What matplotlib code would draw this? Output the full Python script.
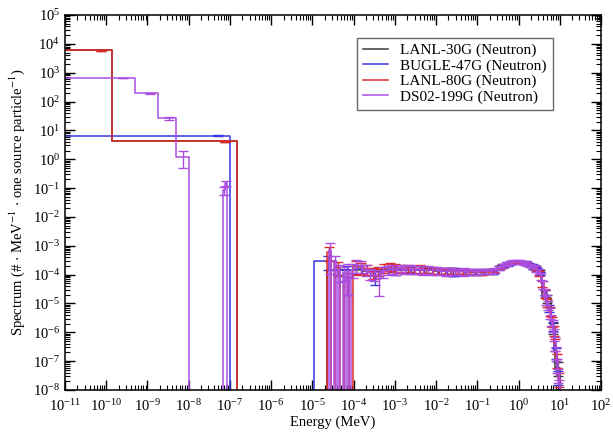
import numpy as np
import matplotlib
matplotlib.use("Agg")
import matplotlib.pyplot as plt
from matplotlib.lines import Line2D
from matplotlib.ticker import LogLocator, NullFormatter

plt.rcParams['font.family'] = ['Liberation Serif', 'DejaVu Serif']
plt.rcParams['mathtext.fontset'] = 'stix'

# ---------------- data (MeV bin edges, spectrum values, relative errors) ----------------
lanl30_edges = [1e-11, 1.39e-10, 1.52e-7, 2.26e-5, 6.14e-5, 1.67e-4, 4.54e-4, 1.235e-3, 3.35e-3,
                9.12e-3, 2.48e-2, 6.76e-2, 0.184, 0.303, 0.5, 0.823, 1.353, 1.738, 2.232, 2.865,
                3.68, 6.07, 7.79, 10.0]
lanl30_vals = [6000, 4.2, 0, 1.4e-4, 1.5e-4, 1.3e-4, 1.6e-4, 1.5e-4, 1.4e-4, 1.35e-4, 1.3e-4,
               1.25e-4, 1.3e-4, 2.0e-4, 2.5e-4, 2.8e-4, 2.5e-4, 2.1e-4, 1.7e-4, 1.2e-4,
               1.5e-5, 1.5e-6, 6e-8]
lanl30_rel = [0.05, 0.05, 0, 0.3, 0.3, 0.25, 0.2, 0.2, 0.2, 0.2, 0.2, 0.2, 0.2, 0.15, 0.1, 0.1,
              0.1, 0.1, 0.15, 0.2, 0.3, 0.4, 0.5]

bugle47_edges = [1e-11, 1e-7, 1.068e-5, 3.727e-5, 1.013e-4, 2.144e-4, 4.54e-4, 1.585e-3, 3.355e-3,
                 7.102e-3, 1.503e-2, 2.188e-2, 2.418e-2, 2.606e-2, 3.183e-2, 6.738e-2, 0.1111,
                 0.1832, 0.2972, 0.3688, 0.4979, 0.6081, 0.7427, 0.8209, 1.003, 1.353, 1.653,
                 1.920, 2.231, 2.307, 2.346, 2.365, 2.466, 2.725, 3.012, 3.679, 4.966, 6.065,
                 7.408, 8.607, 10.0]
bugle47_vals = [6.5, 0, 3e-4, 1.4e-4, 1.6e-4, 9e-5, 1.4e-4, 1.5e-4, 1.45e-4, 1.4e-4, 1.35e-4,
                1.3e-4, 1.3e-4, 1.3e-4, 1.3e-4, 1.3e-4, 1.3e-4, 1.35e-4, 1.7e-4, 2.0e-4, 2.3e-4,
                2.5e-4, 2.7e-4, 2.8e-4, 2.8e-4, 2.6e-4, 2.3e-4, 2.1e-4, 1.9e-4, 1.9e-4, 1.9e-4,
                1.8e-4, 1.7e-4, 1.5e-4, 1.1e-4, 2.5e-5, 7e-6, 1.7e-6, 2e-7, 3e-8]
bugle47_rel = [0.03, 0, 0.5, 0.4, 0.35, 0.5, 0.3, 0.25, 0.25, 0.25, 0.25, 0.3, 0.3, 0.3, 0.2,
               0.2, 0.2, 0.2, 0.15, 0.1, 0.1, 0.1, 0.1, 0.1, 0.1, 0.1, 0.1, 0.1, 0.15, 0.15,
               0.15, 0.15, 0.1, 0.1, 0.15, 0.2, 0.3, 0.35, 0.4, 0.5]

lanl80_edges = [1e-11, 1.39e-10, 1.52e-7, 2.2e-5, 2.8e-5, 3.6e-5, 4.6e-5, 5.9e-5, 7.6e-5, 9.7e-5,
                1.3e-4, 1.8e-4, 2.5e-4, 3.4e-4, 4.6e-4, 6.3e-4, 8.6e-4, 1.2e-3, 1.7e-3, 2.4e-3,
                3.4e-3, 4.8e-3, 6.8e-3, 9.6e-3, 1.35e-2, 1.9e-2, 2.7e-2, 3.8e-2, 5.4e-2, 7.6e-2,
                0.107, 0.15, 0.21, 0.3, 0.4, 0.55, 0.75, 1.0, 1.35, 1.8, 2.3, 2.9, 3.5, 4.1,
                4.7, 5.3, 6.0, 6.7, 7.4, 8.2, 9.0, 10.0]
lanl80_vals = [6000, 4.2, 0, 6e-4, 0, 1.8e-4, 0, 6.5e-5, 0, 2.0e-4,
               1.8e-4, 1.6e-4, 1.2e-4, 1.4e-4, 1.7e-4, 1.9e-4, 1.8e-4, 1.6e-4, 1.7e-4, 1.5e-4,
               1.6e-4, 1.5e-4, 1.45e-4, 1.4e-4, 1.4e-4, 1.35e-4, 1.3e-4, 1.3e-4, 1.25e-4,
               1.25e-4, 1.25e-4, 1.3e-4, 1.4e-4,
               1.8e-4, 2.2e-4, 2.6e-4, 2.8e-4, 2.8e-4, 2.5e-4,
               2.0e-4, 1.7e-4, 1.1e-4, 5e-5, 2.2e-5, 1.1e-5, 5.5e-6, 2.5e-6, 1.2e-6, 4e-7,
               1.2e-7, 2.5e-8]
lanl80_rel = [0.03, 0.05, 0, 0.5, 0, 0.5, 0, 0.7, 0, 0.5,
              0.4, 0.4, 0.4, 0.35, 0.35, 0.3, 0.3, 0.3, 0.3, 0.3, 0.3, 0.25, 0.25, 0.25, 0.25,
              0.25, 0.2, 0.2, 0.2, 0.2, 0.2, 0.2, 0.15,
              0.1, 0.1, 0.1, 0.1, 0.1, 0.1,
              0.1, 0.15, 0.2, 0.25, 0.3, 0.3, 0.35, 0.4, 0.4, 0.45, 0.5, 0.5]

ds02_edges = [1e-11, 5e-10, 1.8e-9, 4.9e-9, 1e-8, 6.7e-8, 7.6e-8, 8.5e-8,
              2.1e-5, 2.5e-5, 2.9e-5, 3.3e-5, 3.7e-5, 4.2e-5, 4.8e-5, 5.4e-5, 6.1e-5, 6.9e-5,
              7.8e-5, 8.8e-5, 1.0e-4, 1.3e-4, 1.7e-4, 2.2e-4, 2.8e-4, 3.6e-4, 4.6e-4, 5.9e-4,
              7.5e-4, 9.6e-4, 1.23e-3, 1.6e-3, 2.0e-3, 2.6e-3, 3.4e-3, 4.3e-3, 5.5e-3, 7.1e-3,
              9.1e-3, 1.17e-2, 1.5e-2, 1.9e-2, 2.5e-2, 3.2e-2, 4.1e-2, 5.2e-2, 6.7e-2, 8.6e-2,
              0.111, 0.142, 0.183, 0.235, 0.302, 0.37, 0.45, 0.55, 0.67, 0.82, 1.0, 1.2, 1.45,
              1.75, 2.1, 2.5, 2.9, 3.3, 3.7, 4.1, 4.5, 5.0, 5.5, 6.0, 6.5, 7.0, 7.5, 8.0, 8.5,
              9.0, 9.5, 10.0]
ds02_vals = [650, 190, 26, 1.2, 0, 0.085, 0.15, 0,
             0, 7e-4, 0, 3e-4, 0, 1.4e-4, 0, 1.2e-4, 0, 1.3e-4, 0, 1.5e-4,
             2.2e-4, 2.0e-4, 1.5e-4, 1.1e-4, 1.0e-4, 7e-5, 1.3e-4, 1.5e-4, 1.6e-4, 1.4e-4,
             1.7e-4, 1.5e-4, 1.6e-4, 1.5e-4, 1.55e-4, 1.45e-4, 1.5e-4, 1.4e-4, 1.4e-4,
             1.35e-4, 1.3e-4, 1.35e-4, 1.3e-4, 1.25e-4, 1.3e-4, 1.25e-4, 1.3e-4, 1.25e-4,
             1.3e-4, 1.3e-4, 1.3e-4, 1.4e-4,
             1.7e-4, 2.0e-4, 2.3e-4, 2.5e-4, 2.7e-4, 2.8e-4, 2.8e-4, 2.6e-4, 2.4e-4, 2.1e-4,
             1.9e-4, 1.6e-4, 1.3e-4, 9e-5, 4.5e-5, 2.5e-5, 1.4e-5, 9e-6, 4.8e-6, 2.8e-6,
             1.8e-6, 9e-7, 4.5e-7, 2e-7, 8e-8, 3.5e-8, 1.5e-8]
ds02_rel = [0.02, 0.03, 0.12, 0.6, 0, 0.3, 0.2, 0,
            0, 0.85, 0, 0.5, 0, 0.6, 0, 0.5, 0, 0.85, 0, 0.5,
            0.5, 0.45, 0.4, 0.4, 0.4, 0.75, 0.4, 0.35, 0.35, 0.3,
            0.3, 0.3, 0.35, 0.3, 0.3, 0.35, 0.3, 0.3, 0.3, 0.3, 0.3, 0.3, 0.25, 0.25, 0.3,
            0.25, 0.25, 0.25, 0.2, 0.2, 0.2, 0.2,
            0.15, 0.15, 0.15, 0.15, 0.15, 0.15, 0.15, 0.15, 0.15, 0.15,
            0.15, 0.2, 0.2, 0.25, 0.3, 0.3, 0.35, 0.35, 0.4, 0.4, 0.45, 0.45, 0.5, 0.5, 0.5,
            0.5, 0.5]

series_labels = ["LANL-30G (Neutron)", "BUGLE-47G (Neutron)", "LANL-80G (Neutron)",
                 "DS02-199G (Neutron)"]
series_colors = ["#3a3a3a", "#3535e0", "#e02828", "#a94ee0"]

# ---------------- figure ----------------
fig = plt.figure(figsize=(6.13, 4.34), dpi=100)
ax = fig.add_axes([65 / 613, 44 / 434, 536 / 613, 375 / 434])
ax.set_xscale('log')
ax.set_yscale('log')

series = [(lanl30_edges, lanl30_vals, lanl30_rel),
          (bugle47_edges, bugle47_vals, bugle47_rel),
          (lanl80_edges, lanl80_vals, lanl80_rel),
          (ds02_edges, ds02_vals, ds02_rel)]

for (edges, vals, rel), col in zip(series, series_colors):
    e = np.asarray(edges, float)
    v = np.asarray(vals, float)
    r = np.asarray(rel, float)
    ax.step(e, np.r_[v, 0.0], where='post', color=col, lw=1.1)
    centers = 0.5 * (e[:-1] + e[1:])
    m = v > 0
    ax.errorbar(centers[m], v[m], yerr=(v * r)[m], fmt='none', ecolor=col,
                elinewidth=1.0, capsize=3.5, capthick=1.0)

ax.set_xlim(1e-11, 1e2)
ax.set_ylim(1e-8, 1e5)

ax.xaxis.set_major_locator(LogLocator(base=10, numticks=20))
ax.yaxis.set_major_locator(LogLocator(base=10, numticks=20))
ax.xaxis.set_minor_locator(LogLocator(base=10, subs=np.arange(2, 10), numticks=200))
ax.yaxis.set_minor_locator(LogLocator(base=10, subs=np.arange(2, 10), numticks=200))
ax.xaxis.set_minor_formatter(NullFormatter())
ax.yaxis.set_minor_formatter(NullFormatter())
ax.tick_params(which='both', direction='in', top=True, right=True, labelsize=10.5)
ax.tick_params(axis='x', which='major', pad=6)
ax.tick_params(which='major', length=7, width=1.0)
ax.tick_params(which='minor', length=3.5, width=0.8)
for s in ax.spines.values():
    s.set_linewidth(1.1)

ax.set_xlabel("Energy (MeV)", fontsize=10.5, labelpad=1)
ax.set_ylabel(r"Spectrum (# $\cdot$ MeV$^{-1}$ $\cdot$ one source particle$^{-1}$)",
              fontsize=10.5, labelpad=4)

handles = [Line2D([], [], color=c, lw=1.1) for c in series_colors]
leg = ax.legend(handles, series_labels, loc='upper right', bbox_to_anchor=(0.91, 0.94),
                borderaxespad=0, fontsize=11, frameon=True, fancybox=False,
                handlelength=1.6, borderpad=0.4, labelspacing=0.1, handletextpad=0.8)
leg.get_frame().set_edgecolor('#444444')
leg.get_frame().set_linewidth(1.0)

fig.savefig("out.png", dpi=100)
